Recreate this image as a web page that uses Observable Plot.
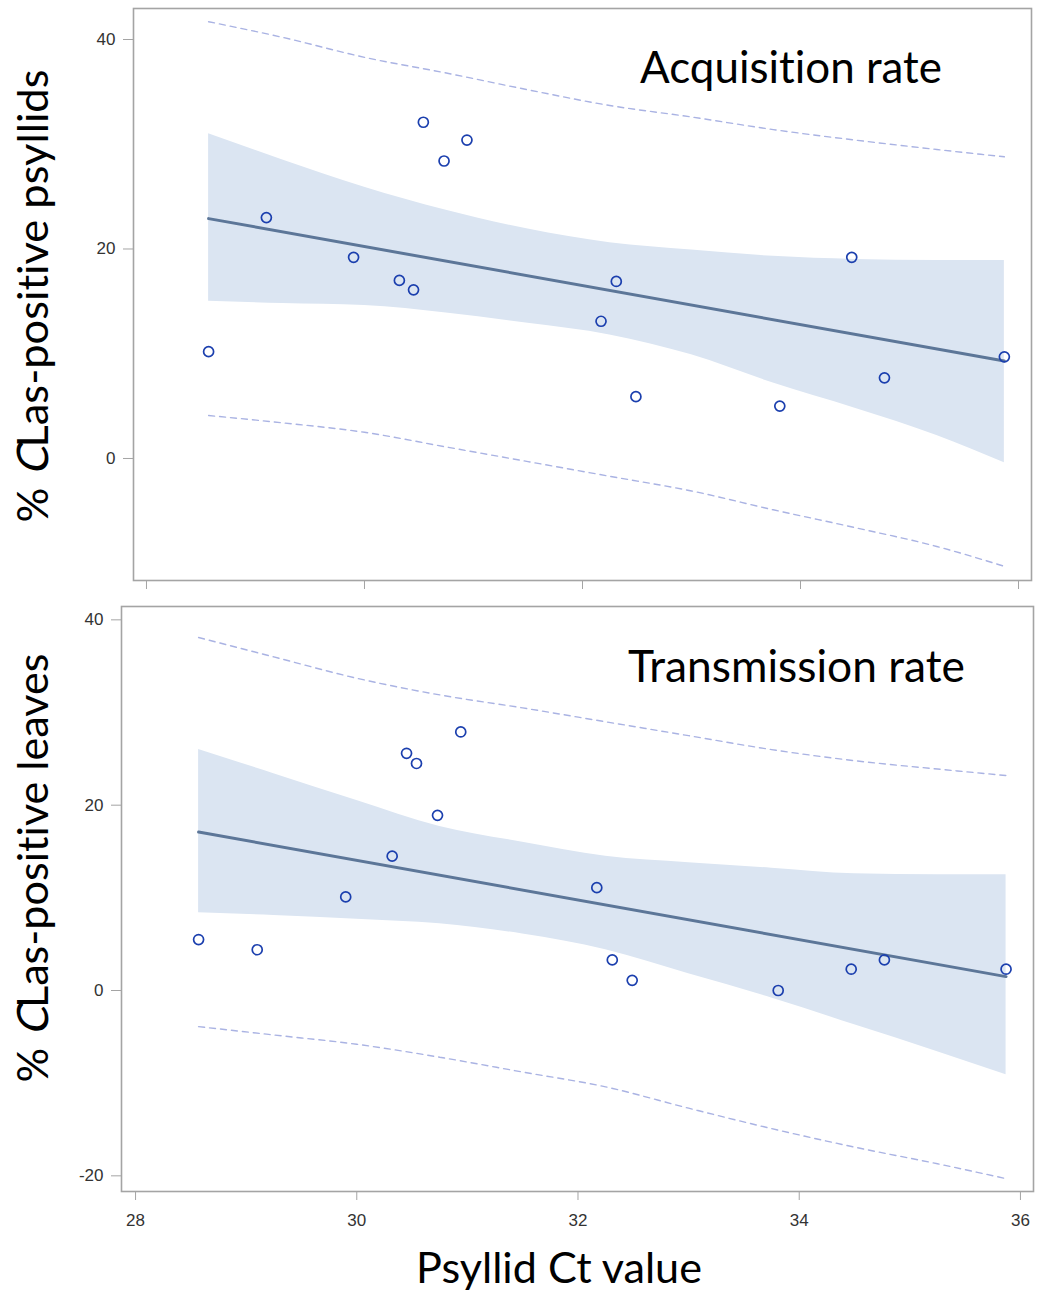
<!DOCTYPE html>
<html>
<head>
<meta charset="utf-8">
<script src="https://cdn.jsdelivr.net/npm/d3@7"></script>
<script src="https://cdn.jsdelivr.net/npm/@observablehq/plot@0.6"></script>
<style>
  html, body { margin: 0; padding: 0; background: #ffffff; }
  #wrap { position: relative; width: 1047px; height: 1291px; overflow: hidden; background: #ffffff; }
  .panel { position: absolute; left: 0; }
  #overlay { position: absolute; left: 0; top: 0; pointer-events: none; font-variant-ligatures: none; }
</style>
</head>
<body>
<div id="wrap">
  <div id="top" class="panel" style="top:0px"></div>
  <div id="bottom" class="panel" style="top:596px"></div>
</div>
<script>
// ---------------- data ----------------
const ct = [28.57, 29.10, 29.90, 30.32, 30.45, 30.54, 30.73, 30.94, 32.17, 32.31, 32.49, 33.81, 34.47, 34.77, 35.87];
const acqPct = [10.2, 23.0, 19.2, 17.0, 16.1, 32.1, 28.4, 30.4, 13.1, 16.9, 5.9, 5.0, 19.2, 7.7, 9.7];
const transPct = [5.5, 4.4, 10.1, 14.5, 25.6, 24.5, 18.9, 27.9, 11.1, 3.3, 1.1, 0.0, 2.3, 3.3, 2.3];

const fitCt = [28.57, 35.87];
const acqFit = [22.9, 9.3];
const transFit = [17.1, 1.5];

const bandCt   = [28.57, 29.25, 30.0, 30.75, 31.5, 32.25, 33.0, 33.75, 34.5, 35.25, 35.87];
const acqClHi  = [31.0, 28.5, 25.9, 23.7, 21.9, 20.6, 19.9, 19.3, 19.0, 18.9, 18.9];
const acqClLo  = [15.0, 14.8, 14.6, 13.9, 12.9, 11.8, 9.9, 7.2, 4.8, 2.2, -0.4];
const acqPiHi  = [41.7, 40.2, 38.3, 36.8, 35.2, 33.7, 32.6, 31.4, 30.4, 29.5, 28.8];
const acqPiLo  = [4.1, 3.4, 2.5, 1.1, -0.3, -1.7, -3.1, -4.9, -6.6, -8.4, -10.3];
const transClHi = [26.0, 23.4, 20.5, 17.7, 16.0, 14.5, 13.8, 13.2, 12.6, 12.5, 12.5];
const transClLo = [8.4, 8.1, 7.7, 7.2, 6.1, 4.4, 1.8, -0.8, -3.7, -6.6, -9.1];
const transPiHi = [38.1, 36.0, 33.7, 31.9, 30.5, 29.0, 27.5, 26.0, 24.8, 23.9, 23.2];
const transPiLo = [-3.9, -4.8, -5.8, -7.2, -8.8, -10.4, -12.7, -14.9, -16.9, -18.7, -20.3];

const xTicks = [28, 30, 32, 34, 36];
const acqYTicks = [0, 20, 40];
const transYTicks = [-20, 0, 20, 40];

const acqTitle = "Acquisition rate";
const transTitle = "Transmission rate";
const xTitle = "Psyllid Ct value";

// ---------------- styling ----------------
const W = 1047;
const C = {
  band: "#dbe5f2",
  pi: "#aab3e3",
  fit: "#5c7698",
  dot: "#1b3fae",
  frame: "#a4a4a4",
  tickText: "#333333"
};

function makePanel(o) {
  const band = bandCt.map((x, i) => ({x, lo: o.clLo[i], hi: o.clHi[i], pLo: o.piLo[i], pHi: o.piHi[i]}));
  const pts = ct.map((x, i) => ({x, y: o.pct[i]}));
  const fit = fitCt.map((x, i) => ({x, y: o.fit[i]}));
  return Plot.plot({
    width: W,
    height: o.height,
    marginLeft: o.ml, marginRight: o.mr, marginTop: o.mt, marginBottom: o.mb,
    x: {domain: o.xDomain},
    y: {domain: o.yDomain},
    style: {fontFamily: "'Liberation Sans', Arial, sans-serif", fontSize: "17px", background: "transparent", overflow: "visible"},
    marks: [
      Plot.areaY(band, {x: "x", y1: "lo", y2: "hi", fill: C.band, curve: "monotone-x"}),
      Plot.line(band, {x: "x", y: "pHi", stroke: C.pi, strokeWidth: 1.4, strokeDasharray: "6,5", curve: "monotone-x"}),
      Plot.line(band, {x: "x", y: "pLo", stroke: C.pi, strokeWidth: 1.4, strokeDasharray: "6,5", curve: "monotone-x"}),
      Plot.line(fit, {x: "x", y: "y", stroke: C.fit, strokeWidth: 3}),
      Plot.dot(pts, {x: "x", y: "y", r: 5, stroke: C.dot, strokeWidth: 1.7, fill: "none"}),
      Plot.frame({stroke: C.frame, strokeWidth: 1.6}),
      Plot.axisY({ticks: o.yTicks, tickSize: 10, tickPadding: 8, stroke: C.frame, fill: C.tickText, label: null, tickFormat: d => String(d)}),
      Plot.axisX({ticks: xTicks, tickSize: 9, tickPadding: 13, stroke: C.frame, fill: C.tickText, label: null,
                  tickFormat: o.xLabels ? (d => String(d)) : (() => "")})
    ]
  });
}

const topPlot = makePanel({
  pct: acqPct, fit: acqFit, clLo: acqClLo, clHi: acqClHi, piLo: acqPiLo, piHi: acqPiHi,
  height: 600, ml: 133, mr: 16, mt: 8, mb: 20,
  xDomain: [27.881, 36.119], yDomain: [-11.65, 42.96],
  yTicks: acqYTicks, xLabels: false
});
document.getElementById("top").appendChild(topPlot);

const bottomPlot = makePanel({
  pct: transPct, fit: transFit, clLo: transClLo, clHi: transClHi, piLo: transPiLo, piHi: transPiHi,
  height: 695, ml: 121, mr: 14, mt: 10, mb: 100,
  xDomain: [27.873, 36.118], yDomain: [-21.69, 41.44],
  yTicks: transYTicks, xLabels: true
});
document.getElementById("bottom").appendChild(bottomPlot);

// ---------------- text overlay ----------------
const svg = d3.select("#wrap").append("svg")
  .attr("id", "overlay").attr("width", W).attr("height", 1291)
  .style("font-family", "Lato, 'Open Sans', sans-serif").style("fill", "#000");

function fit(node, target) {
  const w = node.getComputedTextLength();
  if (w > 0) {
    const fs = parseFloat(node.getAttribute("font-size"));
    node.setAttribute("font-size", (fs * target / w).toFixed(2));
  }
}

const t1 = svg.append("text").attr("x", 640).attr("y", 83).attr("font-size", 42).text(acqTitle);
fit(t1.node(), 302);
const t2 = svg.append("text").attr("x", 628).attr("y", 682).attr("font-size", 42).text(transTitle);
fit(t2.node(), 337);
const t3 = svg.append("text").attr("x", 559).attr("y", 1283).attr("text-anchor", "middle").attr("font-size", 42).text(xTitle);
fit(t3.node(), 286);

// y-axis titles: "% " + italic "C" + rest; the C is drawn slanted with a skew
function yLabel(cx, cy, rest, len) {
  const g = svg.append("g").attr("transform", `translate(${cx},${cy}) rotate(-90)`);
  const t = g.append("text").attr("text-anchor", "middle").attr("font-size", 42);
  t.append("tspan").text("% ");
  const cSpan = t.append("tspan").text("C");
  t.append("tspan").text(rest);
  fit(t.node(), len);
  const fs = t.attr("font-size");
  const ext = t.node().getExtentOfChar(2);
  cSpan.attr("fill-opacity", 0);
  g.append("text")
    .attr("font-size", fs)
    .attr("transform", `translate(${ext.x + 1},0) skewX(-13)`)
    .text("C");
}
yLabel(48, 296, "Las-positive psyllids", 453);
yLabel(48, 868, "Las-positive leaves", 429);
</script>
</body>
</html>
